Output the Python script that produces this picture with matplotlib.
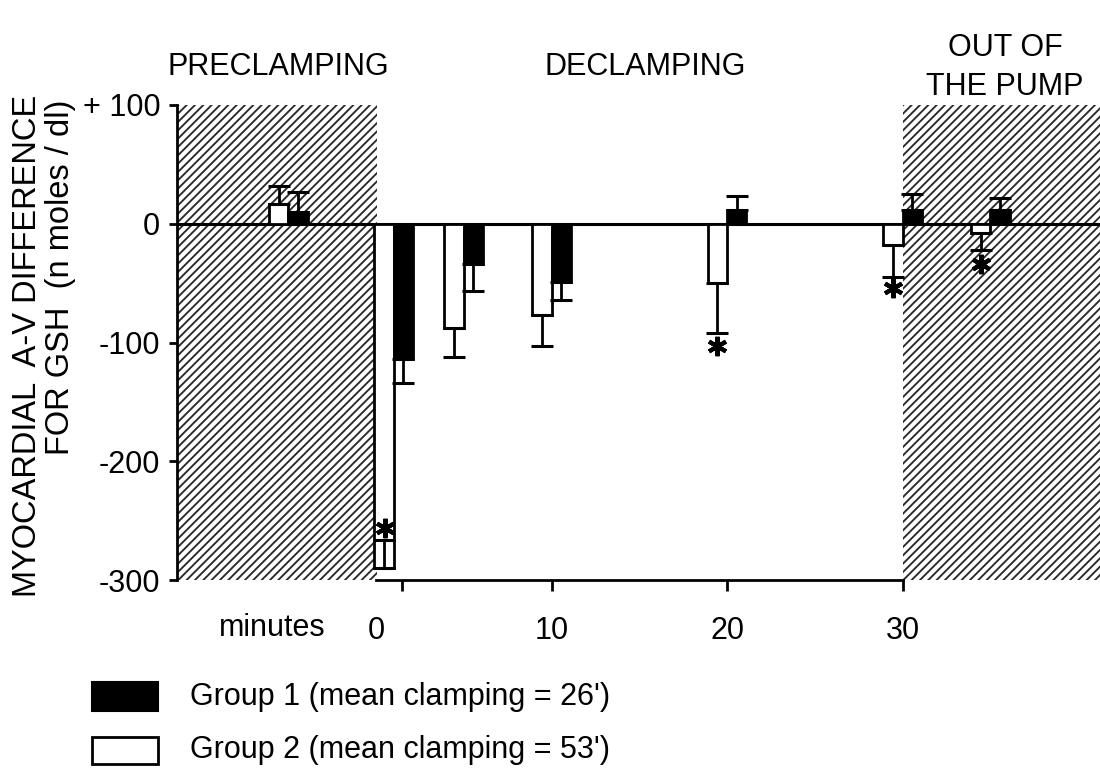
import matplotlib
matplotlib.use("Agg")
import matplotlib.pyplot as plt
import numpy as np
from matplotlib.patches import Rectangle

plt.rcParams['font.family'] = ['Liberation Sans', 'DejaVu Sans']
plt.rcParams['hatch.linewidth'] = 1.35

# Data (minutes relative to declamping; -5 = preclamping, 35 = out of the pump)
times = [-5, 1, 5, 10, 20, 30, 35]
group1_mean = [10, -114, -34, -49, 12, 12, 12]
group1_err_lo = [0, 20, 23, 15, 0, 0, 0]
group1_err_hi = [17, 0, 0, 0, 11, 13, 10]
group2_mean = [17, -290, -88, -77, -50, -18, -8]
group2_err_lo = [0, 0, 24, 26, 42, 27, 14]
group2_err_hi = [15, 24, 0, 0, 0, 0, 0]
star_x = [0.5, 19.45, 29.45, 34.45]
star_y = [-256, -103, -54, -34]

yticks = [100, 0, -100, -200, -300]
yticklabels = ['+ 100', '0', '-100', '-200', '-300']
xtick_marks = [1.5, 10, 20, 30]
xtick_mark_labels = ['', '10', '20', '30']
zero_tick = [0]
zero_label = ['0']
legend_labels = ["Group 1 (mean clamping = 26')", "Group 2 (mean clamping = 53')"]

FS = 22

fig = plt.figure(figsize=(11, 7.77), dpi=100)
ax = fig.add_axes([177/1100, 1 - 580/777, 1 - 177/1100, (580-105)/777])
ax.set_xlim(-11.34, 41.25)
ax.set_ylim(-300, 100)

# shaded periods
ax.axvspan(-11.34, 0.05, facecolor='white', edgecolor='#2a2a2a', hatch='////', linewidth=0, zorder=0)
ax.axvspan(30, 41.25, facecolor='white', edgecolor='#2a2a2a', hatch='////', linewidth=0, zorder=0)

w = 1.1
t = np.array(times, dtype=float)
ax.bar(t, group2_mean, width=-w, align='edge', facecolor='white', edgecolor='black', linewidth=2, zorder=3)
ax.bar(t, group1_mean, width=w, align='edge', facecolor='black', edgecolor='black', linewidth=2, zorder=3)
ax.errorbar(t - w/2, group2_mean, yerr=[group2_err_lo, group2_err_hi], fmt='none', ecolor='black',
            elinewidth=2, capsize=8, capthick=2.2, zorder=4)
ax.errorbar(t + w/2, group1_mean, yerr=[group1_err_lo, group1_err_hi], fmt='none', ecolor='black',
            elinewidth=2, capsize=8, capthick=2.2, zorder=4)

ax.plot(star_x, star_y, linestyle='none', marker=(6, 2, 0), markersize=14, markeredgewidth=3,
        color='black', zorder=5)

ax.axhline(0, color='black', linewidth=2.2, zorder=2)

for s in ['top', 'right']:
    ax.spines[s].set_visible(False)
ax.spines['left'].set_linewidth(2)
ax.spines['bottom'].set_linewidth(2)
ax.spines['bottom'].set_bounds(0, 30)

ax.set_yticks(yticks)
ax.set_yticklabels(yticklabels, fontsize=FS)
ax.tick_params(axis='y', length=6, width=2, pad=6)
ax.set_xticks(xtick_marks)
ax.set_xticklabels(xtick_mark_labels, fontsize=FS)
ax.tick_params(axis='x', which='major', length=8, width=2, pad=18)
ax.set_xticks(zero_tick, minor=True)
ax.set_xticklabels(zero_label, minor=True, fontsize=FS)
ax.tick_params(axis='x', which='minor', length=0, pad=26)

# texts
fig.text(272/1100, 1 - 628/777, 'minutes', fontsize=FS, ha='center', va='center')
fig.text(278/1100, 1 - 67/777, 'PRECLAMPING', fontsize=FS, ha='center', va='center')
fig.text(645/1100, 1 - 67/777, 'DECLAMPING', fontsize=FS, ha='center', va='center')
fig.text(1005/1100, 1 - 48/777, 'OUT OF', fontsize=FS, ha='center', va='center')
fig.text(1005/1100, 1 - 87/777, 'THE PUMP', fontsize=FS, ha='center', va='center')
fig.text(28/1100, 1 - 95/777, 'MYOCARDIAL  A-V DIFFERENCE', fontsize=23.5, rotation=90, ha='center', va='top')
fig.text(61/1100, 1 - 100/777, 'FOR GSH  (n moles / dl)', fontsize=23.5, rotation=90, ha='center', va='top')

# legend
fig.patches.append(Rectangle((92/1100, 1 - 711/777), 66/1100, 29/777, facecolor='black', edgecolor='black',
                             linewidth=1.5, transform=fig.transFigure, figure=fig))
fig.patches.append(Rectangle((92/1100, 1 - 764/777), 66/1100, 27/777, facecolor='white', edgecolor='black',
                             linewidth=2, transform=fig.transFigure, figure=fig))
fig.text(190/1100, 1 - 697/777, legend_labels[0], fontsize=FS, ha='left', va='center')
fig.text(190/1100, 1 - 750/777, legend_labels[1], fontsize=FS, ha='left', va='center')

fig.savefig('out.png', dpi=100)
